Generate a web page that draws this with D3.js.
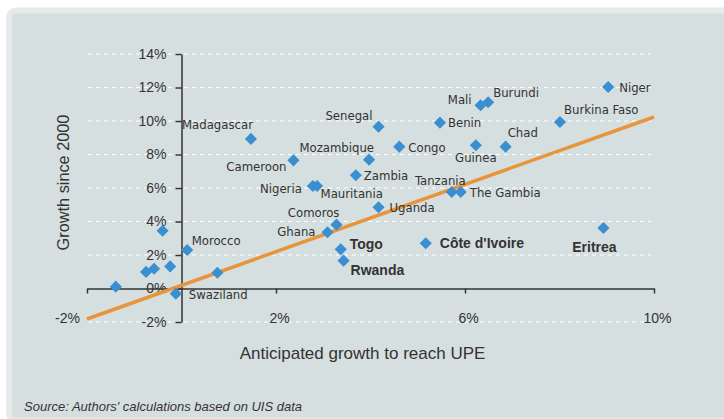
<!DOCTYPE html>
<html>
<head>
<meta charset="utf-8">
<script src="https://cdnjs.cloudflare.com/ajax/libs/d3/7.8.5/d3.min.js"></script>
<style>
    body { margin: 0; background: #ffffff; }
    svg { display: block; }
</style>
</head>
<body>
<svg id="drawing_region"></svg>
<script>
// values (percent)
const countries = ["Niger", "Burkina Faso", "Burundi", "Mali", "Benin", "Senegal", "Congo", "Guinea", "Chad",
    "Tanzania", "The Gambia", "Uganda", "Eritrea", "Côte d'Ivoire", "Togo", "Rwanda", "Comoros", "Ghana",
    "Nigeria", "Mauritania", "Zambia", "Mozambique", "Cameroon", "Madagascar", "Morocco", "Swaziland",
    "", "", "", "", "", ""];
const anticipated = [9.03, 8.01, 6.49, 6.33, 5.47, 4.17, 4.61, 6.23, 6.86,
    5.72, 5.91, 4.17, 8.93, 5.17, 3.37, 3.43, 3.28, 3.09,
    2.78, 2.87, 3.69, 3.97, 2.37, 1.47, 0.12, -0.12,
    -0.40, -0.24, -0.58, -0.75, -1.39, 0.76];
const growth = [12.03, 9.94, 11.12, 10.94, 9.90, 9.66, 8.47, 8.55, 8.47,
    5.76, 5.76, 4.85, 3.61, 2.70, 2.34, 1.66, 3.81, 3.36,
    6.12, 6.12, 6.76, 7.69, 7.65, 8.93, 2.30, -0.31,
    3.45, 1.32, 1.18, 0.99, 0.11, 0.94];
const highlighted = ["Eritrea", "Côte d'Ivoire", "Togo", "Rwanda"];
const xTicks = [-2, 2, 6, 10];
const yTicks = [-2, 0, 2, 4, 6, 8, 10, 12, 14];
const trendX = [-2, 10];
const trendY = [-1.82, 10.24];

const xTitle = "Anticipated growth to reach UPE";
const yTitle = "Growth since 2000";
const sourceNote = "Source: Authors' calculations based on UIS data";

class ScatterChart {
    constructor(config, data) {
        this.config = config;
        this.data = data;
        this.init();
    }

    init() {
        let self = this;
        self.inner_width = self.config.width - self.config.margin.left - self.config.margin.right;
        self.inner_height = self.config.height - self.config.margin.top - self.config.margin.bottom;

        self.svg = d3.select(self.config.parent)
            .attr('width', self.config.width)
            .attr('height', self.config.height);

        // panel background
        self.svg.append('rect')
            .attr('x', 9).attr('y', 10.5)
            .attr('width', 800).attr('height', 410)
            .attr('rx', 7)
            .attr('fill', '#d6dfdf')
            .attr('stroke', '#e5eaea')
            .attr('stroke-width', 6);

        self.chart = self.svg.append('g')
            .attr('transform', `translate(${self.config.margin.left}, ${self.config.margin.top})`);

        self.xscale = d3.scaleLinear()
            .domain([-2, 10])
            .range([0, self.inner_width]);

        self.yscale = d3.scaleLinear()
            .domain([-2, 14])
            .range([self.inner_height, 0]);

        self.xaxis = d3.axisBottom(self.xscale)
            .tickValues(xTicks)
            .tickSize(5)
            .tickPadding(20)
            .tickSizeOuter(0)
            .tickFormat(d => d + '%');

        self.yaxis = d3.axisLeft(self.yscale)
            .tickValues(yTicks)
            .tickSize(6)
            .tickPadding(9)
            .tickSizeOuter(0)
            .tickFormat(d => d + '%');
    }

    render() {
        let self = this;
        const tickFont = '"Liberation Sans", Arial, sans-serif';
        const labelFont = '"DejaVu Sans Condensed", "Liberation Sans Narrow", sans-serif';

        // dashed gridlines
        self.chart.append('g')
            .selectAll('line')
            .data(yTicks.filter(d => d !== 0))
            .join('line')
            .attr('x1', 1)
            .attr('x2', self.inner_width - 3)
            .attr('y1', d => self.yscale(d))
            .attr('y2', d => self.yscale(d))
            .attr('stroke', '#ffffff')
            .attr('stroke-width', 1)
            .attr('stroke-dasharray', '4,4');

        // x axis on the 0% line
        self.xaxis_group = self.chart.append('g')
            .attr('transform', `translate(0, ${self.yscale(0)})`)
            .call(self.xaxis);
        self.xaxis_group.selectAll('text')
            .attr('dx', d => d === -2 ? -20 : 3);

        // y axis on the 0% line
        self.yaxis_group = self.chart.append('g')
            .attr('transform', `translate(${self.xscale(0)}, 0)`)
            .call(self.yaxis);

        [self.xaxis_group, self.yaxis_group].forEach(g => {
            g.select('.domain').attr('stroke', '#333333').attr('stroke-width', 1.5);
            g.selectAll('.tick line').attr('stroke', '#333333').attr('stroke-width', 1.5);
            g.selectAll('.tick text')
                .attr('fill', '#333333')
                .attr('font-family', tickFont)
                .attr('font-size', '14px');
        });

        // trend line
        const line = d3.line()
            .x(d => self.xscale(d[0]))
            .y(d => self.yscale(d[1]));
        self.chart.append('path')
            .datum(d3.zip(trendX, trendY))
            .attr('d', line)
            .attr('fill', 'none')
            .attr('stroke', '#e8943a')
            .attr('stroke-width', 3.5);

        // diamonds
        self.chart.append('g')
            .selectAll('rect')
            .data(self.data)
            .join('rect')
            .attr('x', -4.3).attr('y', -4.3)
            .attr('width', 8.6).attr('height', 8.6)
            .attr('transform', d => `translate(${self.xscale(d.x)}, ${self.yscale(d.y)}) rotate(45)`)
            .attr('fill', '#3a8fd1');

        // label offsets from the marker: [dx, dy, anchor]
        const place = {
            "Niger": [11, 5, 'start'], "Burkina Faso": [4, -8, 'start'], "Burundi": [5, -5, 'start'],
            "Mali": [-9, -1, 'end'], "Benin": [8, 4.5, 'start'], "Senegal": [-6, -6.5, 'end'],
            "Congo": [9, 5, 'start'], "Guinea": [0, 17, 'middle'], "Chad": [2, -10, 'start'],
            "Tanzania": [14, -7.5, 'end'], "The Gambia": [9, 5, 'start'], "Uganda": [11, 5, 'start'],
            "Eritrea": [-9, 24, 'middle'], "Côte d'Ivoire": [14, 5, 'start'], "Togo": [9, 0, 'start'],
            "Rwanda": [7, 14.5, 'start'], "Comoros": [3, -8, 'end'], "Ghana": [-12, 3.5, 'end'],
            "Nigeria": [-11, 7, 'end'], "Mauritania": [3.5, 12, 'start'], "Zambia": [8, 5, 'start'],
            "Mozambique": [5, -8, 'end'], "Cameroon": [-7, 10.5, 'end'], "Madagascar": [2, -10, 'end'],
            "Morocco": [4.5, -5, 'start'], "Swaziland": [13, 5.5, 'start']
        };

        self.chart.append('g')
            .selectAll('text')
            .data(self.data.filter(d => d.label !== ''))
            .join('text')
            .attr('x', d => self.xscale(d.x) + place[d.label][0])
            .attr('y', d => self.yscale(d.y) + place[d.label][1])
            .attr('text-anchor', d => place[d.label][2])
            .attr('font-family', d => d.bold ? tickFont : labelFont)
            .attr('font-weight', d => d.bold ? 'bold' : 'normal')
            .attr('font-size', d => d.bold ? '14px' : '13px')
            .attr('fill', '#333333')
            .text(d => d.label);

        // axis titles
        self.svg.append('text')
            .attr('x', 362.5)
            .attr('y', 359)
            .attr('text-anchor', 'middle')
            .attr('font-family', tickFont)
            .attr('font-size', '17px')
            .attr('fill', '#333333')
            .text(xTitle);

        self.svg.append('text')
            .attr('transform', 'translate(69, 182.5) rotate(-90)')
            .attr('text-anchor', 'middle')
            .attr('font-family', tickFont)
            .attr('font-size', '16.3px')
            .attr('fill', '#333333')
            .text(yTitle);

        self.svg.append('text')
            .attr('x', 24)
            .attr('y', 411)
            .attr('font-family', tickFont)
            .attr('font-style', 'italic')
            .attr('font-size', '13px')
            .attr('fill', '#333333')
            .text(sourceNote);
    }
}

const data = countries.map((c, i) => ({
    label: c,
    x: anticipated[i],
    y: growth[i],
    bold: highlighted.includes(c)
}));

var config = {
    parent: '#drawing_region',
    width: 724,
    height: 419,
    margin: { top: 54, right: 70, bottom: 97, left: 87 }
};

let chart = new ScatterChart(config, data);
chart.render();
</script>
</body>
</html>
